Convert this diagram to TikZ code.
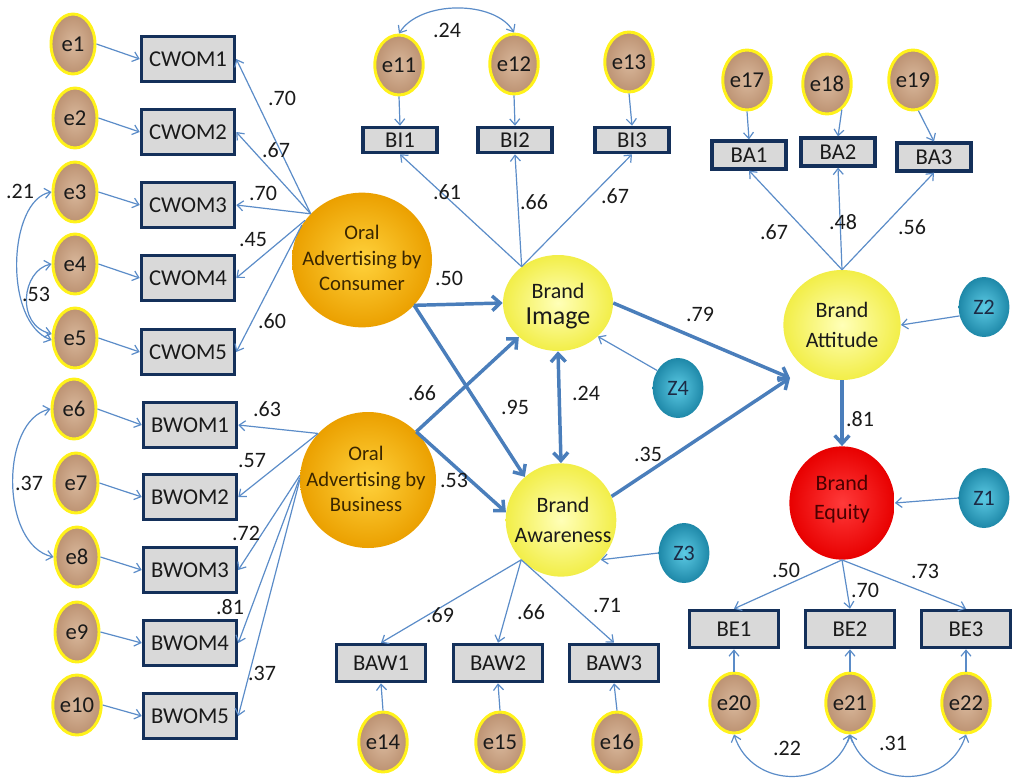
\documentclass[tikz,border=0pt]{standalone}
\usepackage{fontspec}
\setmainfont{Carlito}
\usetikzlibrary{shapes.geometric,arrows.meta}
\definecolor{thinblue}{HTML}{5B8CC8}
\definecolor{thickblue}{HTML}{4A7EBB}
\definecolor{navy}{HTML}{14305A}
\definecolor{boxgray}{HTML}{D9D9D9}
\definecolor{errin}{HTML}{D9B89C}
\definecolor{errout}{HTML}{BC9272}
\definecolor{errrim}{HTML}{FFF21A}
\definecolor{orin}{HTML}{FFD23C}
\definecolor{orout}{HTML}{EBA000}
\definecolor{ortext}{HTML}{3A2600}
\definecolor{yein}{HTML}{FFFFB8}
\definecolor{yeout}{HTML}{F2EE48}
\definecolor{rein}{HTML}{FF3A3A}
\definecolor{reout}{HTML}{E80000}
\definecolor{retext}{HTML}{4A0000}
\definecolor{zin}{HTML}{5CCAE4}
\definecolor{zout}{HTML}{1E88A8}
\definecolor{ztext}{HTML}{1C2A44}
\definecolor{txt}{HTML}{1A1A1A}
\tikzset{
  err/.style={ellipse, inner sep=0pt, minimum width=33pt, minimum height=45pt,
    draw=errrim, line width=2.2pt, inner color=errin, outer color=errout,
    font=\fontsize{17}{19}\selectfont, text=txt},
  obs/.style={rectangle, draw=navy, line width=2.4pt, fill=boxgray, inner sep=0pt,
    minimum width=70pt, minimum height=34pt, font=\fontsize{17}{19}\selectfont, text=txt},
  obsS/.style={obs, minimum width=55.5pt, minimum height=19pt},
  obsA/.style={obs, minimum width=55.5pt, minimum height=21pt},
  obsM/.style={obs, minimum width=67pt, minimum height=28pt},
  lat/.style={ellipse, inner sep=0pt},
  lattext/.style={align=center, inner sep=0pt, font=\fontsize{16.5}{22}\selectfont, text=txt},
  ortext/.style={lattext, text=ortext, font=\fontsize{15.5}{19}\selectfont},
  orlat/.style={lat, inner color=orin, outer color=orout},
  yelat/.style={lat, inner color=yein, outer color=yeout},
  relat/.style={lat, inner color=rein, outer color=reout},
  zlat/.style={ellipse, inner sep=0pt, minimum width=38pt, minimum height=45pt,
    inner color=zin, outer color=zout, font=\fontsize{16.5}{18}\selectfont, text=ztext},
  loadarr/.style={draw=thinblue, line width=0.9pt, -{Straight Barb[length=4.5pt,width=7.5pt]}},
  covarr/.style={draw=thinblue, line width=0.9pt,
    {Straight Barb[length=4.5pt,width=7.5pt]}-{Straight Barb[length=4.5pt,width=7.5pt]}},
  patharr/.style={draw=thickblue, line width=2.6pt, -{Straight Barb[length=6pt,width=11pt]}},
  dpatharr/.style={draw=thickblue, line width=2.6pt,
    {Straight Barb[length=6pt,width=11pt]}-{Straight Barb[length=6pt,width=11pt]}},
  lab/.style={font=\fontsize{16.5}{18}\selectfont, text=txt, inner sep=0pt}
}
\begin{document}
\begin{tikzpicture}[x=0.75pt,y=-0.75pt]
\path[use as bounding box] (0,0) rectangle (1012,778);
% ---------- latent variables ----------
\node[orlat, minimum width=105pt, minimum height=101pt] (cons) at (362,260) {};
\node[ortext] (consT) at (362,258) {Oral\\Advertising by\\Consumer};
\node[orlat, minimum width=102pt, minimum height=102pt] (bus) at (368,480) {};
\node[ortext] (busT) at (366,479) {Oral\\Advertising by\\Business};
\node[yelat, minimum width=82.5pt, minimum height=72pt] (img) at (558,303) {};
\node[lattext] (imgT) at (558,306) {Brand\\[-2pt]{\fontsize{19.5}{22}\selectfont Image}};
\node[yelat, minimum width=83pt, minimum height=85pt] (aw) at (561,520) {};
\node[lattext] (awT) at (563,520) {Brand\\Awareness};
\node[yelat, minimum width=88pt, minimum height=82.5pt] (att) at (842,325) {};
\node[lattext] (attT) at (842,325) {Brand\\Attitude};
\node[relat, minimum width=79pt, minimum height=85pt] (eq) at (842,503) {};
\node[lattext, text=retext] (eqT) at (842,499) {Brand\\Equity};
\node[zlat] (z4) at (678,388) {Z4};
\node[zlat] (z3) at (684,553) {Z3};
\node[zlat] (z2) at (984,307) {Z2};
\node[zlat] (z1) at (984,498) {Z1};
% ---------- error terms ----------
\node[err] (e1) at (73,44) {e1};
\node[err] (e2) at (75,118) {e2};
\node[err] (e3) at (75,192) {e3};
\node[err] (e4) at (75,264) {e4};
\node[err] (e5) at (75,338) {e5};
\node[err] (e6) at (74,409) {e6};
\node[err] (e7) at (76,483) {e7};
\node[err] (e8) at (77,557) {e8};
\node[err] (e9) at (77,632) {e9};
\node[err] (e10) at (77,705) {e10};
\node[err] (e11) at (399,65) {e11};
\node[err] (e12) at (514,64) {e12};
\node[err] (e13) at (629,62) {e13};
\node[err] (e17) at (747,80) {e17};
\node[err] (e18) at (827,84) {e18};
\node[err] (e19) at (913,80) {e19};
\node[err] (e14) at (383,742) {e14};
\node[err] (e15) at (500,742) {e15};
\node[err] (e16) at (617,742) {e16};
\node[err] (e20) at (734,703) {e20};
\node[err] (e21) at (850,703) {e21};
\node[err] (e22) at (966,703) {e22};
% ---------- observed ----------
\node[obs] (cw1) at (188,59) {CWOM1};
\node[obs] (cw2) at (188,132) {CWOM2};
\node[obs] (cw3) at (188,205) {CWOM3};
\node[obs] (cw4) at (188,278) {CWOM4};
\node[obs] (cw5) at (188,352) {CWOM5};
\node[obs] (bw1) at (190,425) {BWOM1};
\node[obs] (bw2) at (190,497) {BWOM2};
\node[obs] (bw3) at (190,570) {BWOM3};
\node[obs] (bw4) at (190,643) {BWOM4};
\node[obs] (bw5) at (190,716) {BWOM5};
\node[obsS] (bi1) at (400,140) {BI1};
\node[obsS] (bi2) at (515,140) {BI2};
\node[obsS] (bi3) at (632,140) {BI3};
\node[obsA] (ba1) at (749,155) {BA1};
\node[obsA] (ba2) at (838,152) {BA2};
\node[obsA] (ba3) at (934,157) {BA3};
\node[obsM] (baw1) at (381,663) {BAW1};
\node[obsM] (baw2) at (498,663) {BAW2};
\node[obsM] (baw3) at (614,663) {BAW3};
\node[obsM] (be1) at (734,629) {BE1};
\node[obsM] (be2) at (850,629) {BE2};
\node[obsM] (be3) at (966,629) {BE3};
% ---------- helper coordinates ----------
\coordinate (attIn) at (790,378);
% ---------- error arrows ----------
\foreach \i in {1,...,5} {\draw[loadarr] (e\i.east) -- (cw\i.west);}
\draw[loadarr] (e6.east) -- (bw1.west);
\draw[loadarr] (e7.east) -- (bw2.west);
\draw[loadarr] (e8.east) -- (bw3.west);
\draw[loadarr] (e9.east) -- (bw4.west);
\draw[loadarr] (e10.east) -- (bw5.west);
\draw[loadarr] (e11.south) -- (bi1.north);
\draw[loadarr] (e12.south) -- (bi2.north);
\draw[loadarr] (e13.south) -- (bi3.north);
\draw[loadarr] (e17.south) -- (ba1.north);
\draw[loadarr] (e18.-60) -- (ba2.north);
\draw[loadarr] (e19.-80) -- (ba3.north);
\draw[loadarr] (e14.north) -- (baw1.south);
\draw[loadarr] (e15.north) -- (baw2.south);
\draw[loadarr] (e16.north) -- (baw3.south);
\draw[loadarr] (e20.north) -- (be1.south);
\draw[loadarr] (e21.north) -- (be2.south);
\draw[loadarr] (e22.north) -- (be3.south);
% ---------- loadings ----------
\draw[loadarr] (cons.138) -- (cw1.east);
\draw[loadarr] (cons.138) -- (cw2.east);
\draw[loadarr] (cons.138) -- (cw3.east);
\draw[loadarr] (cons.145) -- (cw4.east);
\draw[loadarr] (cons.150) -- (cw5.east);
\draw[loadarr] (bus.137) -- (bw1.east);
\draw[loadarr] (bus.137) -- (bw2.east);
\draw[loadarr] (bus.176) -- (bw3.east);
\draw[loadarr] (bus.178) -- (bw4.east);
\draw[loadarr] (bus.180) -- (bw5.east);
\draw[loadarr] (img.135) -- (bi1.south);
\draw[loadarr] (img.135) -- (bi2.south);
\draw[loadarr] (img.135) -- (bi3.south);
\draw[loadarr] (att.north) -- (ba1.south);
\draw[loadarr] (att.north) -- (ba2.south);
\draw[loadarr] (att.north) -- (ba3.south);
\draw[loadarr] (aw.-135) -- (baw1.north);
\draw[loadarr] (aw.-135) -- (baw2.north);
\draw[loadarr] (aw.-135) -- (baw3.north);
\draw[loadarr] (eq.south) -- (be1.north);
\draw[loadarr] (eq.south) -- (be2.north);
\draw[loadarr] (eq.south) -- (be3.north);
% ---------- disturbances ----------
\draw[loadarr] (z4.140) -- (img.-40);
\draw[loadarr] (z3.west) -- (aw.-45);
\draw[loadarr] (z2.200) -- (att.east);
\draw[loadarr] (z1.west) -- (eq.east);
% ---------- structural paths ----------
\draw[patharr] (cons.-41) -- (img.west);
\draw[patharr] (cons.-41) -- (aw.130);
\draw[patharr] (bus.45) -- (img.221);
\draw[patharr] (bus.45) -- (aw.172);
\draw[dpatharr] (img.south) -- (aw.north);
\draw[patharr] (img.east) -- (attIn);
\draw[patharr] (aw.25) -- (attIn);
\draw[patharr] (att.south) -- (eq.north);
% ---------- covariances ----------
\draw[covarr] (e3.west) .. controls (8,200) and (3,322) .. (e5.185);
\draw[covarr] (e4.west) .. controls (22,270) and (15,325) .. (e5.170);
\draw[covarr] (e6.west) .. controls (0,420) and (0,545) .. (e8.west);
\draw[covarr] (e11.north) .. controls (420,0) and (495,0) .. (e12.north);
\draw[covarr] (e20.south) .. controls (752,790) and (832,790) .. (e21.south);
\draw[covarr] (e21.south) .. controls (868,790) and (948,790) .. (e22.south);
% ---------- labels ----------
\node[lab] (l1) at (282,98) {.70};
\node[lab] (l2) at (276,150) {.67};
\node[lab] (l3) at (263,193) {.70};
\node[lab] (l4) at (253,240) {.45};
\node[lab] (l5) at (272,321) {.60};
\node[lab] (l6) at (267,409) {.63};
\node[lab] (l7) at (252,461) {.57};
\node[lab] (l8) at (246,533) {.72};
\node[lab] (l9) at (230,607) {.81};
\node[lab] (l10) at (262,673) {.37};
\node[lab] (l11) at (20,191) {.21};
\node[lab] (l12) at (36,294) {.53};
\node[lab] (l13) at (29,483) {.37};
\node[lab] (l14) at (447,30) {.24};
\node[lab] (l15) at (447,192) {.61};
\node[lab] (l16) at (534,202) {.66};
\node[lab] (l17) at (615,196) {.67};
\node[lab] (l18) at (774,232) {.67};
\node[lab] (l19) at (843,222) {.48};
\node[lab] (l20) at (912,227) {.56};
\node[lab] (l21) at (700,314) {.79};
\node[lab] (l22) at (449,278) {.50};
\node[lab] (l23) at (422,393) {.66};
\node[lab] (l24) at (515,407) {.95};
\node[lab] (l25) at (454,480) {.53};
\node[lab] (l26) at (586,393) {.24};
\node[lab] (l27) at (648,454) {.35};
\node[lab] (l28) at (860,419) {.81};
\node[lab] (l29) at (440,615) {.69};
\node[lab] (l30) at (531,612) {.66};
\node[lab] (l31) at (607,605) {.71};
\node[lab] (l32) at (786,570) {.50};
\node[lab] (l33) at (865,590) {.70};
\node[lab] (l34) at (925,571) {.73};
\node[lab] (l35) at (787,748) {.22};
\node[lab] (l36) at (893,743) {.31};
\end{tikzpicture}
\end{document}
